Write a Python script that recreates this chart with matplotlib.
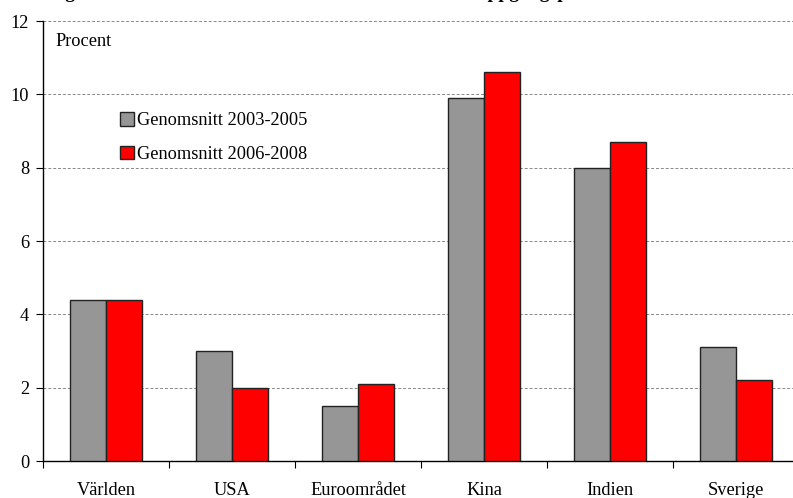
import matplotlib.pyplot as plt
import numpy as np

plt.rcParams['font.family'] = 'Liberation Serif'

regions = ["Världen", "USA", "Euroområdet", "Kina", "Indien", "Sverige"]
avg_2003_2005 = [4.4, 3.0, 1.5, 9.9, 8.0, 3.1]
avg_2006_2008 = [4.4, 2.0, 2.1, 10.6, 8.7, 2.2]
series_labels = ["Genomsnitt 2003-2005", "Genomsnitt 2006-2008"]

fs = 13.2

fig = plt.figure(figsize=(7.93, 4.98), dpi=100)
ax = fig.add_axes([43 / 793, 1 - 461 / 498, 756 / 793, 440 / 498])

x = np.arange(len(regions)) + 0.5
w = 0.286
ax.bar(x - w / 2, avg_2003_2005, width=w, color='#969696', edgecolor='#222222',
       linewidth=1.0, label=series_labels[0], zorder=3)
ax.bar(x + w / 2, avg_2006_2008, width=w, color='#ff0000', edgecolor='#222222',
       linewidth=1.0, label=series_labels[1], zorder=3)

ax.set_xlim(0, len(regions))
ax.set_ylim(0, 12)
ax.set_yticks(np.arange(0, 13, 2))
ax.tick_params(axis='y', direction='out', length=5, labelsize=fs, pad=5)

# category separators as ticks, labels in the middle
ax.set_xticks(np.arange(0, len(regions) + 1))
ax.set_xticklabels([])
ax.set_xticks(x, minor=True)
ax.set_xticklabels(regions, minor=True)
ax.tick_params(axis='x', which='major', direction='out', length=5)
ax.tick_params(axis='x', which='minor', length=0, labelsize=fs, pad=15)

for y in range(2, 13, 2):
    ax.axhline(y, color='#888888', linestyle=(0, (3, 2)), linewidth=0.7, zorder=1)

ax.spines['top'].set_visible(False)
ax.spines['right'].set_visible(False)
ax.spines['left'].set_linewidth(1.0)
ax.spines['bottom'].set_linewidth(1.0)

ax.text(12 / 756, 1 - 21 / 440, "Procent", transform=ax.transAxes,
        fontsize=fs, va='center', ha='left')

ax.legend(loc='upper left', bbox_to_anchor=(70 / 756, 1 - 84 / 440), frameon=False,
          fontsize=fs, handlelength=0.75, handleheight=0.75, handletextpad=0.15,
          labelspacing=0.9, borderaxespad=0)

fig.text(0.045, 1 + 2 / 498, "Diagram 1. BNP-tillväxt i världen under den senaste uppgångsperioden",
         fontsize=14, fontweight='bold', va='baseline', ha='left')

fig.savefig('out.png', dpi=100)
